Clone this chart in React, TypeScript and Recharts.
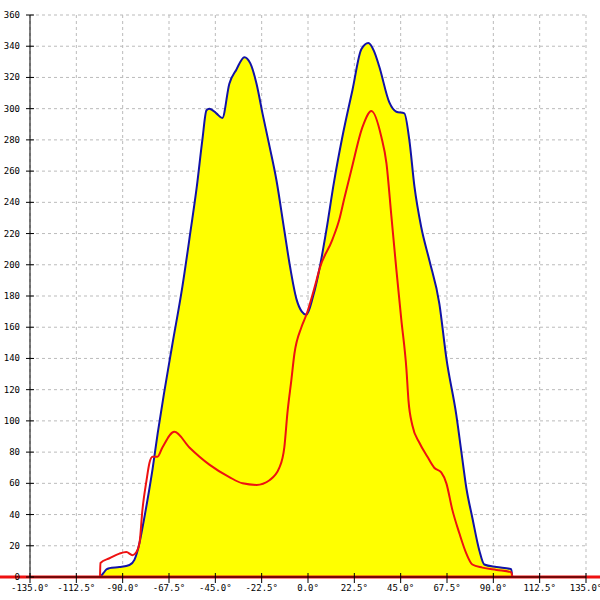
import React from "react"
import {
  ComposedChart,
  Area,
  Line,
  XAxis,
  YAxis,
  CartesianGrid,
  ReferenceLine,
} from "recharts"

// angle (deg) / value pairs
const blueDeg = [
  -100.8, -99.3, -97.8, -96.4, -91.6, -86.7, -84.3, -81.8, -80.9, -78.0, -75.5, -73.0, -70.0,
  -66.0, -61.0, -57.0, -54.0, -51.3, -49.3, -47.9, -44.5, -41.6, -38.2, -34.8, -30.9, -28.0,
  -25.0, -22.1, -18.7, -15.3, -11.5, -9.0, -5.6, -3.0, -0.8, 2.5, 5.5, 8.9, 12.5, 16.7, 21.6,
  25.9, 29.3, 32.0, 34.6, 39.5, 42.9, 46.8, 49.2, 51.7, 55.0, 58.9, 63.8, 67.2, 72.0, 74.5,
  76.9, 79.8, 83.2, 85.6, 91.5, 98.7, 99.2,
]
const blueVal = [
  0, 2.6, 5, 5.7, 6.4, 7.7, 11, 22, 28, 49, 69, 92, 117,
  148, 186, 222, 250, 280, 299, 300, 297, 294, 316, 325, 333, 329,
  316, 297, 276, 254, 222, 201, 178, 170, 168, 180, 197, 222, 252, 282, 312,
  338, 342, 337, 327, 304, 298, 297, 280, 250, 224, 203, 175, 140, 104, 80,
  57, 38, 17, 8, 6.4, 5, 0,
]

const redDeg = [
  -101, -100.8, -96.4, -91.6, -88.2, -85.2, -83.3, -81.8, -80.4, -78.4, -77.0, -75.5, -73.1,
  -70.7, -64.9, -57.6, -47.9, -38.2, -31.8, -25.0, -18.7, -13.9, -11.5, -10.0, -8.1, -6.6,
  -3.2, -0.8, 4.1, 5.5, 11.8, 15.2, 17.7, 21.1, 26.4, 30.8, 35.6, 38.1, 40.5, 42.9, 45.3,
  47.8, 48.8, 50.7, 54.1, 58.0, 61.3, 64.7, 67.2, 70.1, 73.5, 76.9, 79.8, 84.7, 91.5, 98.7,
  99.2,
]
const redVal = [
  0, 9, 12, 15, 16, 14, 16, 22, 43, 62, 73, 77, 77,
  83, 93, 83, 72, 64, 60, 59, 62, 70, 83, 105, 126, 143,
  160, 168, 190, 197, 216, 229, 243, 261, 288, 298.5, 282, 265, 231, 197, 165,
  133, 113, 97, 86, 77, 70, 67, 60, 43, 28, 15, 8, 6, 4.5, 3,
  0,
]

const xTicks = [-135, -112.5, -90, -67.5, -45, -22.5, 0, 22.5, 45, 67.5, 90, 112.5, 135]
const yTicks = [0, 20, 40, 60, 80, 100, 120, 140, 160, 180, 200, 220, 240, 260, 280, 300, 320, 340, 360]

const blueData = blueDeg.map((d, i) => ({ deg: d, v: blueVal[i] }))
const redData = redDeg.map((d, i) => ({ deg: d, v: redVal[i] }))

const FONT = "DejaVu Sans Mono"

function YTick(props: any) {
  const { x, y, payload } = props
  return (
    <g>
      <line x1={x + 10} x2={x + 14} y1={y} y2={y} stroke="#000" />
      <text x={x} y={y} dy={3} textAnchor="end" fontFamily={FONT} fontSize={9} fill="#000">
        {payload.value}
      </text>
    </g>
  )
}

function XTick(props: any) {
  const { x, y, payload } = props
  return (
    <g>
      <line x1={x} x2={x} y1={y - 6} y2={y - 10} stroke="#000" />
      <text x={x} y={y} dy={8} textAnchor="middle" fontFamily={FONT} fontSize={9} fill="#000">
        {payload.value.toFixed(1) + "°"}
      </text>
    </g>
  )
}

export default function App() {
  return (
    <div style={{ position: "absolute", left: 0, top: 0, width: 600, height: 600, background: "#fff" }}>
      <ComposedChart width={600} height={600} margin={{ top: 15, right: 14, left: 0, bottom: 0 }}>
        <XAxis
          type="number"
          dataKey="deg"
          domain={[-135, 135]}
          ticks={xTicks}
          interval={0}
          height={23}
          tickSize={6}
          tickMargin={0}
          stroke="#000"
          tick={<XTick />}
          allowDataOverflow
        />
        <YAxis
          type="number"
          domain={[0, 360]}
          ticks={yTicks}
          interval={0}
          width={30}
          tickSize={4}
          tickMargin={6}
          stroke="#000"
          tick={<YTick />}
        />
        <Area
          data={blueData}
          dataKey="v"
          type="monotone"
          stroke="#1212a8"
          strokeWidth={2}
          fill="#ffff00"
          fillOpacity={1}
          isAnimationActive={false}
          dot={false}
        />
        <CartesianGrid stroke="#bbbbbb" strokeDasharray="3 3" />
        <Line
          data={redData}
          dataKey="v"
          type="monotone"
          stroke="#ee1111"
          strokeWidth={2}
          dot={false}
          isAnimationActive={false}
        />
        <ReferenceLine
          segment={[{ x: -150, y: 0 }, { x: 142, y: 0 }]}
          stroke="#ee1111"
          strokeWidth={3}
          ifOverflow="visible"
        />
      </ComposedChart>
    </div>
  )
}
